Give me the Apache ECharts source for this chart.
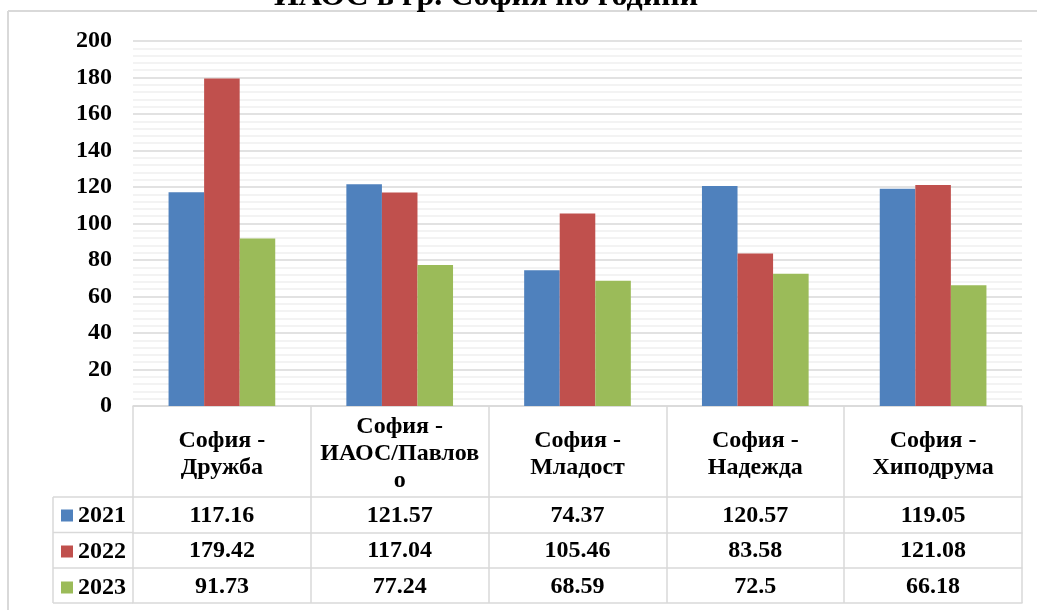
<!DOCTYPE html>
<html>
<head>
<meta charset="utf-8">
<script src="https://cdn.jsdelivr.net/npm/echarts@6/dist/echarts.min.js"></script>
<style>
  html, body { margin: 0; padding: 0; background: #fff; }
  #chart { width: 1037px; height: 610px; }
</style>
</head>
<body>
<div id="chart"></div>
<script>
// Monitoring stations (categories) and yearly values
const categories = ['София - Дружба', 'София - ИАОС/Павлово', 'София - Младост', 'София - Надежда', 'София - Хиподрума'];
const headerLabels = ['София -\nДружба', 'София -\nИАОС/Павлов\nо', 'София -\nМладост', 'София -\nНадежда', 'София -\nХиподрума'];
const years = ['2021', '2022', '2023'];
const values2021 = [117.16, 121.57, 74.37, 120.57, 119.05];
const values2022 = [179.42, 117.04, 105.46, 83.58, 121.08];
const values2023 = [91.73, 77.24, 68.59, 72.5, 66.18];
const yMin = 0, yMax = 200, yStep = 20;
const titleText = 'ИАОС в гр. София по години';

const seriesValues = [values2021, values2022, values2023];
const colors = ['#4F81BD', '#C0504D', '#9BBB59'];

// Layout
const W = 1037, H = 610;
const gridLeft = 133, gridRight = 15, gridTop = 41, gridBottomY = 406;
const rowOffsets = [91, 126.5, 162, 197];   // table row lines below the plot
const legendLeft = 53;
const lineColor = '#d9d9d9';
const font = 'Liberation Serif, Times New Roman, serif';
const fontSize = 24;

const baseX = {
  type: 'category',
  data: categories,
  gridIndex: 0,
  position: 'bottom',
  axisTick: { show: false },
  splitLine: { show: false },
  axisLine: { show: true, lineStyle: { color: lineColor, width: 1.5 } }
};

const xAxes = [
  Object.assign({}, baseX, {
    axisTick: { show: true, interval: 0, length: rowOffsets[3], lineStyle: { color: lineColor, width: 1.5 } },
    axisLabel: {
      interval: 0, hideOverlap: false,
      formatter: (v, i) => headerLabels[i],
      margin: 48, verticalAlign: 'middle', lineHeight: 27,
      color: '#000', fontFamily: font, fontWeight: 'bold', fontSize: fontSize
    }
  })
];
seriesValues.forEach((vals, r) => {
  xAxes.push(Object.assign({}, baseX, {
    offset: rowOffsets[r],
    axisLabel: {
      interval: 0, hideOverlap: false,
      formatter: (v, i) => String(vals[i]),
      margin: (rowOffsets[r + 1] - rowOffsets[r]) / 2 + 1, verticalAlign: 'middle',
      color: '#000', fontFamily: font, fontWeight: 'bold', fontSize: fontSize
    }
  }));
});
xAxes.push(Object.assign({}, baseX, { offset: rowOffsets[3], axisLabel: { show: false } }));

// Lines of the legend column and outer frame
const graphics = [
  { type: 'line', shape: { x1: 8, y1: 11, x2: W, y2: 11 }, style: { stroke: lineColor, lineWidth: 2 }, silent: true },
  { type: 'line', shape: { x1: 8, y1: 11, x2: 8, y2: H }, style: { stroke: lineColor, lineWidth: 2 }, silent: true },
  { type: 'line', shape: { x1: legendLeft, y1: gridBottomY + rowOffsets[0], x2: legendLeft, y2: gridBottomY + rowOffsets[3] }, style: { stroke: lineColor, lineWidth: 1.5 }, silent: true },
  {
    type: 'text', x: 486, y: 13,
    style: {
      text: titleText, font: 'bold 32px ' + font, fill: '#000',
      align: 'center', verticalAlign: 'bottom', textAlign: 'center', textVerticalAlign: 'bottom'
    },
    silent: true
  }
];
rowOffsets.forEach(off => {
  graphics.push({ type: 'line', shape: { x1: legendLeft, y1: gridBottomY + off, x2: gridLeft, y2: gridBottomY + off }, style: { stroke: lineColor, lineWidth: 1.5 }, silent: true });
});

const chart = echarts.init(document.getElementById('chart'), null, { renderer: 'canvas' });
chart.setOption({
  animation: false,
  backgroundColor: '#fff',
  color: colors,
  grid: { left: gridLeft, right: gridRight, top: gridTop, bottom: H - gridBottomY, containLabel: false },
  legend: {
    data: years,
    orient: 'vertical',
    left: 61,
    top: gridBottomY + rowOffsets[0] + 6.5,
    padding: 0,
    itemWidth: 12, itemHeight: 12, itemGap: 12,
    icon: 'rect',
    textStyle: { color: '#000', fontFamily: font, fontWeight: 'bold', fontSize: fontSize, lineHeight: 21 }
  },
  xAxis: xAxes,
  yAxis: {
    type: 'value',
    min: yMin, max: yMax, interval: yStep,
    axisLine: { show: false },
    axisTick: { show: false },
    axisLabel: { margin: 21, color: '#000', fontFamily: font, fontWeight: 'bold', fontSize: fontSize },
    splitLine: { show: true, lineStyle: { color: lineColor, width: 1.5 } },
    minorTick: { show: false, splitNumber: 5 },
    minorSplitLine: { show: true, lineStyle: { color: '#f0f0f0', width: 1.5 } }
  },
  series: years.map((y, i) => ({
    name: y,
    type: 'bar',
    xAxisIndex: 0,
    data: seriesValues[i],
    barGap: 0,
    barCategoryGap: '40%',
    itemStyle: { color: colors[i] }
  })),
  graphic: graphics
});
</script>
</body>
</html>
